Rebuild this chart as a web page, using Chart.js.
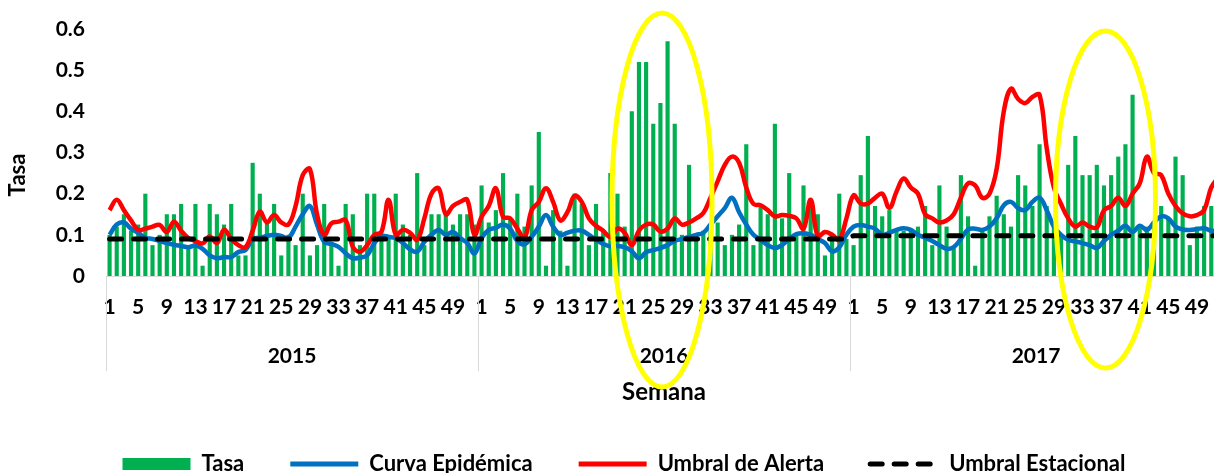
<!DOCTYPE html>
<html>
<head>
<meta charset="utf-8">
<script src="https://cdn.jsdelivr.net/npm/chart.js@4/dist/chart.umd.min.js"></script>
<style>
  html, body { margin: 0; padding: 0; overflow: hidden; background: #fff; width: 1214px; height: 473px; }
  #wrap { position: relative; width: 1222px; height: 485px; }
</style>
</head>
<body>
<div id="wrap"><canvas id="chart" width="1222" height="485"></canvas></div>
<script>
// datos semanales por año (52 semanas)
const years = ['2015', '2016', '2017'];

const tasa2015 = [0.1,0.12,0.15,0.11,0.125,0.2,0.075,0.1,0.15,0.15, 0.175,0.07,0.175,0.025,0.175,0.15,0.125,0.175,0.05,0.05,
  0.275,0.2,0.13,0.175,0.05,0.1,0.075,0.2,0.05,0.075, 0.175,0.075,0.025,0.175,0.15,0.075,0.2,0.2,0.1,0.1,
  0.2,0.125,0.1,0.25,0.075,0.15,0.15,0.15,0.125,0.15, 0.15,0.125];
const tasa2016 = [0.22,0.13,0.16,0.25,0.14,0.2,0.12,0.22,0.35,0.025, 0.16,0.11,0.025,0.2,0.175,0.075,0.175,0.11,0.25,0.2,
  0.12,0.4,0.52,0.52,0.37,0.42,0.57,0.37,0.1,0.27, 0.1,0.11,0.12,0.13,0.075,0.1,0.125,0.32,0.075,0.17,
  0.15,0.37,0.14,0.25,0.1,0.22,0.17,0.15,0.05,0.1, 0.2,0.09];
const tasa2017 = [0.075,0.245,0.34,0.17,0.145,0.16,0.11,0.11,0.11,0.12, 0.17,0.075,0.22,0.12,0.07,0.245,0.145,0.025,0.11,0.145,
  0.195,0.15,0.12,0.245,0.22,0.17,0.32,0.17,0.13,0.1, 0.27,0.34,0.245,0.245,0.27,0.22,0.245,0.29,0.32,0.44,
  0.12,0.12,0.13,0.17,0.14,0.29,0.245,0.075,0.12,0.17, 0.17,0.17];

const curva2015 = [0.1,0.125,0.13,0.115,0.105,0.093,0.09,0.085,0.08,0.076, 0.073,0.07,0.074,0.066,0.05,0.043,0.046,0.046,0.058,0.063,
  0.09,0.093,0.097,0.1,0.097,0.093,0.12,0.15,0.17,0.125, 0.083,0.078,0.071,0.055,0.043,0.045,0.05,0.08,0.097,0.095,
  0.092,0.08,0.065,0.059,0.083,0.1,0.112,0.1,0.107,0.092, 0.08,0.055];
const curva2016 = [0.092,0.112,0.117,0.125,0.115,0.085,0.077,0.095,0.12,0.148, 0.12,0.1,0.105,0.11,0.11,0.1,0.088,0.078,0.072,0.073,
  0.07,0.06,0.043,0.058,0.063,0.068,0.075,0.085,0.09,0.095, 0.1,0.105,0.125,0.145,0.165,0.19,0.155,0.125,0.1,0.088,
  0.075,0.068,0.075,0.09,0.102,0.104,0.1,0.09,0.08,0.06, 0.07,0.1];
const curva2017 = [0.12,0.124,0.12,0.115,0.1,0.105,0.112,0.116,0.112,0.1, 0.093,0.085,0.075,0.066,0.07,0.09,0.113,0.115,0.112,0.12,
  0.14,0.172,0.18,0.165,0.16,0.18,0.19,0.16,0.12,0.1, 0.088,0.084,0.08,0.075,0.068,0.085,0.1,0.11,0.122,0.107,
  0.122,0.112,0.13,0.145,0.14,0.12,0.113,0.112,0.114,0.116, 0.11,0.11];

const alerta2015 = [0.16,0.185,0.16,0.135,0.112,0.115,0.12,0.124,0.107,0.132, 0.11,0.092,0.085,0.079,0.096,0.08,0.112,0.09,0.075,0.07,
  0.11,0.156,0.13,0.148,0.13,0.125,0.17,0.245,0.26,0.15, 0.1,0.128,0.132,0.136,0.071,0.059,0.075,0.1,0.107,0.185,
  0.1,0.112,0.105,0.088,0.14,0.2,0.213,0.15,0.17,0.18, 0.185,0.1];
const alerta2016 = [0.144,0.17,0.213,0.144,0.14,0.115,0.092,0.16,0.18,0.213, 0.18,0.135,0.155,0.195,0.18,0.14,0.122,0.11,0.095,0.115,
  0.105,0.075,0.11,0.125,0.125,0.108,0.115,0.14,0.125,0.13, 0.14,0.153,0.19,0.23,0.27,0.29,0.275,0.215,0.175,0.172,
  0.16,0.145,0.148,0.146,0.14,0.115,0.185,0.096,0.107,0.1, 0.088,0.14];
const alerta2017 = [0.196,0.176,0.176,0.19,0.2,0.165,0.205,0.237,0.215,0.2, 0.15,0.14,0.13,0.135,0.15,0.19,0.225,0.22,0.19,0.2,
  0.26,0.4,0.455,0.43,0.42,0.435,0.44,0.31,0.215,0.175, 0.14,0.12,0.13,0.12,0.118,0.16,0.17,0.19,0.17,0.2,
  0.225,0.29,0.25,0.245,0.2,0.17,0.152,0.145,0.148,0.16, 0.215,0.24];

const estacional = [0.09, 0.09, 0.098]; // umbral estacional por año

const weeks = Array.from({length: 52}, (_, i) => String(i + 1));
const labels = years.flatMap(() => weeks);
const tasa = tasa2015.concat(tasa2016, tasa2017);
const curva = curva2015.concat(curva2016, curva2017);
const alerta = alerta2015.concat(alerta2016, alerta2017);
const umbral = estacional.flatMap(v => weeks.map(() => v));

Chart.defaults.font.family = 'Lato';
Chart.defaults.font.weight = 'bold';
Chart.defaults.color = '#000';

// óvalos amarillos, separadores de año y título del eje Y
const extras = {
  id: 'extras',
  afterDraw(chart) {
    const ctx = chart.ctx, a = chart.chartArea;
    ctx.save();
    ctx.strokeStyle = '#d9d9d9';
    ctx.lineWidth = 1;
    for (let i = 0; i <= years.length; i++) {
      const px = Math.round(a.left + (a.right - a.left) * i / years.length) + 0.5;
      ctx.beginPath();
      ctx.moveTo(px, a.bottom);
      ctx.lineTo(px, a.bottom + 95);
      ctx.stroke();
    }
    ctx.fillStyle = '#000';
    ctx.font = 'bold 22px Lato';
    ctx.textAlign = 'center';
    ctx.textBaseline = 'middle';
    ctx.translate(18, 175);
    ctx.rotate(-Math.PI / 2);
    ctx.fillText('Tasa', 0, 0);
    ctx.restore();

    ctx.save();
    ctx.strokeStyle = '#FFFF00';
    ctx.lineWidth = 5;
    [[662, 200, 50, 187], [1105.5, 199.5, 50, 168.5]].forEach(([cx, cy, rx, ry]) => {
      ctx.beginPath();
      ctx.ellipse(cx, cy, rx, ry, 0, 0, Math.PI * 2);
      ctx.stroke();
    });
    ctx.restore();
  }
};

new Chart(document.getElementById('chart'), {
  type: 'bar',
  data: {
    labels: labels,
    datasets: [
      { type: 'bar', label: 'Tasa', data: tasa, backgroundColor: '#00B050',
        barPercentage: 0.58, categoryPercentage: 1, order: 4 },
      { type: 'line', label: 'Curva Epidémica', data: curva, borderColor: '#0070C0',
        borderWidth: 4.5, pointRadius: 0, tension: 0.4, order: 3 },
      { type: 'line', label: 'Umbral de Alerta', data: alerta, borderColor: '#FF0000',
        borderWidth: 4.5, pointRadius: 0, tension: 0.4, order: 2 },
      { type: 'line', label: 'Umbral Estacional', data: umbral, borderColor: '#000000',
        borderWidth: 5, borderDash: [12, 12], borderCapStyle: 'round', pointRadius: 0, tension: 0, order: 1 }
    ]
  },
  options: {
    responsive: false,
    animation: false,
    layout: { padding: { left: 26, top: 29, right: 0, bottom: 0 } },
    plugins: {
      tooltip: { enabled: false },
      legend: {
        position: 'bottom',
        labels: {
          usePointStyle: true,
          pointStyleWidth: 68,
          boxHeight: 12,
          padding: 46,
          font: { size: 22, weight: 'bold' },
          color: '#000',
          generateLabels(chart) {
            return chart.data.datasets.map((ds, i) => {
              const isLine = ds.type === 'line';
              return {
                text: ds.label,
                fillStyle: isLine ? ds.borderColor : ds.backgroundColor,
                strokeStyle: isLine ? ds.borderColor : ds.backgroundColor,
                lineWidth: isLine ? 5 : 0,
                lineDash: ds.borderDash || [],
                lineCap: ds.borderCapStyle || 'butt',
                pointStyle: isLine ? 'line' : 'rect',
                fontColor: '#000',
                hidden: false,
                datasetIndex: i
              };
            });
          }
        }
      }
    },
    scales: {
      x: {
        type: 'category',
        offset: true,
        grid: { display: false, drawTicks: false },
        border: { display: true, color: '#d9d9d9', width: 1 },
        ticks: {
          autoSkip: false, maxRotation: 0, minRotation: 0, padding: 19,
          font: { size: 21, weight: 'bold' }, color: '#000',
          callback(value, index) {
            const w = index % 52;
            return w % 4 === 0 ? weeks[w] : '';
          }
        },
        afterFit(s) { s.height = 50; s.paddingRight = 0; }
      },
      x2: {
        type: 'category',
        labels: years,
        position: 'bottom',
        offset: true,
        grid: { display: false, drawTicks: false },
        border: { display: false },
        ticks: { padding: 18, font: { size: 21, weight: 'bold' }, color: '#000' },
        title: { display: true, text: 'Semana', font: { size: 24, weight: 'bold' }, color: '#000', padding: { top: 0, bottom: 0 } },
        afterFit(s) { s.height = 81; s.paddingRight = 0; }
      },
      y: {
        min: 0, max: 0.6,
        grid: { display: false, drawTicks: false },
        border: { display: false },
        ticks: {
          stepSize: 0.1, padding: 21,
          font: { size: 21, weight: 'bold' }, color: '#000',
          callback: v => v === 0 ? '0' : v.toFixed(1)
        },
        afterFit(s) { s.width = 80; s.paddingTop = 0; s.paddingBottom = 0; }
      }
    }
  },
  plugins: [extras]
});
</script>
</body>
</html>
